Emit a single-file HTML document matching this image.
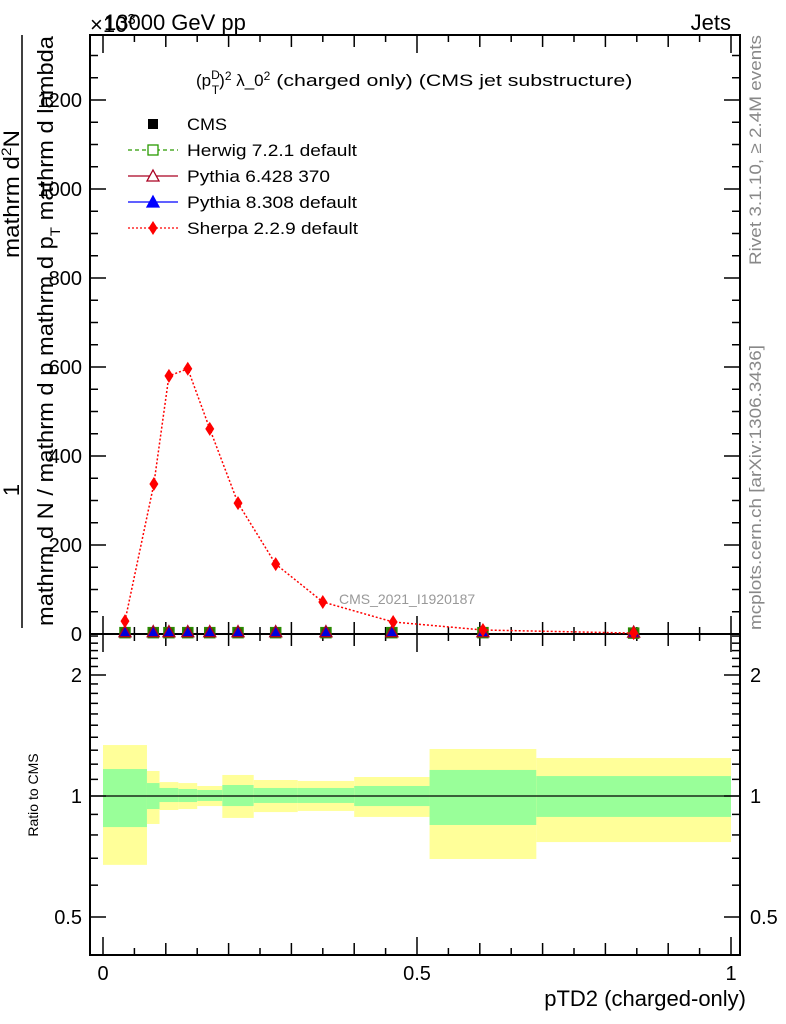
<!DOCTYPE html>
<html><head><meta charset="utf-8"><style>
html,body{margin:0;padding:0;background:#fff;}
svg{display:block;font-family:"Liberation Sans",sans-serif;}
</style></head><body>
<svg id="chart" width="786" height="1024" viewBox="0 0 786 1024" xmlns="http://www.w3.org/2000/svg">
<g id="bands"></g>
<g id="axes"></g>
<g id="marks"></g>
<text x="104" y="30" font-size="22">13000 GeV pp</text>
<text x="90" y="32" font-size="22">×10<tspan font-size="15" dy="-8">3</tspan></text>
<text x="731" y="30" font-size="22" text-anchor="end">Jets</text>
<text x="196" y="86" font-size="17">(p<tspan font-size="12" dy="-7">D</tspan><tspan font-size="12" dx="-8" dy="15">T</tspan><tspan dy="-8">)</tspan><tspan font-size="12" dy="-6">2</tspan><tspan dy="6"> λ_0</tspan><tspan font-size="12" dy="-6">2</tspan><tspan dy="6" textLength="362" lengthAdjust="spacingAndGlyphs"> (charged only) (CMS jet substructure)</tspan></text>
<text x="339" y="604" font-size="14" fill="#999">CMS_2021_I1920187</text>
<text transform="translate(761,265) rotate(-90)" font-size="17" fill="#888" textLength="230" lengthAdjust="spacingAndGlyphs">Rivet 3.1.10, ≥ 2.4M events</text>
<text transform="translate(761,630) rotate(-90)" font-size="17" fill="#888" textLength="285" lengthAdjust="spacingAndGlyphs">mcplots.cern.ch [arXiv:1306.3436]</text>
<g font-size="22">
<text transform="translate(19,194) rotate(-90)" text-anchor="middle" textLength="128" lengthAdjust="spacingAndGlyphs">mathrm d<tspan font-size="14" dy="-8">2</tspan><tspan dy="8">N</tspan></text>
<text transform="translate(19,490) rotate(-90)" text-anchor="middle">1</text>
<line x1="22" y1="35" x2="22" y2="628" stroke="#000" stroke-width="1.5"/>
<text transform="translate(53,626) rotate(-90)" textLength="590" lengthAdjust="spacingAndGlyphs">mathrm d N / mathrm d p mathrm d p<tspan font-size="14" dy="7">T</tspan><tspan dy="-7"> mathrm d lambda</tspan></text>
</g>
<text transform="translate(38,795) rotate(-90)" font-size="14" text-anchor="middle">Ratio to CMS</text>
<text x="746" y="1006" font-size="22" text-anchor="end">pTD2 (charged-only)</text>
<g id="legend" font-size="17"></g>
</svg>
<script>
const edges=[0,0.07,0.09,0.12,0.15,0.19,0.24,0.31,0.40,0.52,0.69,1.0];
const sherpaX=[0.035,0.081,0.105,0.135,0.17,0.215,0.275,0.35,0.462,0.605,0.845];
const sherpaY=[29,337,580,596,461,294,157,72,27,9,2];
const cmsY=[3,3,3,3,3,3,3,3,3,3,2];
const yelHi=[1.339,1.154,1.083,1.077,1.059,1.128,1.096,1.090,1.115,1.309,1.243];
const yelLo=[0.674,0.852,0.923,0.928,0.944,0.882,0.912,0.918,0.887,0.697,0.768];
const grnHi=[1.167,1.077,1.047,1.041,1.035,1.065,1.047,1.047,1.059,1.161,1.121];
const grnLo=[0.837,0.928,0.966,0.966,0.972,0.944,0.961,0.961,0.944,0.847,0.887];
const mainTicks=[0,200,400,600,800,1000,1200];
const ratioTicks=[0.5,1,2];
const xTickLabels=[0,0.5,1];

const NS="http://www.w3.org/2000/svg";
const L=90,R=740,T=35,MB=634,RB=955;
const X=v=>103+v*628;
const Y=v=>634-v*0.445;
const RY=v=>796-121*Math.log2(v);
function mk(tag,attrs,parent){const e=document.createElementNS(NS,tag);for(const k in attrs)e.setAttribute(k,attrs[k]);parent.appendChild(e);return e;}
const bands=document.getElementById('bands'),axes=document.getElementById('axes'),marks=document.getElementById('marks'),legend=document.getElementById('legend');

for(let i=0;i<edges.length-1;i++){
  const x1=X(edges[i]),x2=X(edges[i+1]);
  const yb=mk('rect',{x:x1,y:RY(yelHi[i]),width:x2-x1,height:RY(yelLo[i])-RY(yelHi[i]),fill:'#ffff99'},bands);
  
  
  const gb=mk('rect',{x:x1,y:RY(grnHi[i]),width:x2-x1,height:RY(grnLo[i])-RY(grnHi[i]),fill:'#99ff99'},bands);
  
  
}
mk('line',{x1:L,x2:R,y1:RY(1),y2:RY(1),stroke:'#000','stroke-width':1.2},axes);

mk('rect',{x:L,y:T,width:R-L,height:MB-T,fill:'none',stroke:'#000','stroke-width':2},axes);
mk('rect',{x:L,y:MB,width:R-L,height:RB-MB,fill:'none',stroke:'#000','stroke-width':2},axes);

for(let k=0;k<=20;k++){
  const v=k*0.05,x=X(v);
  const len=(k%10===0)?18:(k%2===0?12:7);
  mk('line',{x1:x,x2:x,y1:MB,y2:MB-len,stroke:'#000','stroke-width':1.5},axes);
  mk('line',{x1:x,x2:x,y1:T,y2:T+len,stroke:'#000','stroke-width':1.5},axes);
  mk('line',{x1:x,x2:x,y1:RB,y2:RB-len,stroke:'#000','stroke-width':1.5},axes);
  mk('line',{x1:x,x2:x,y1:MB,y2:MB+len,stroke:'#000','stroke-width':1.5},axes);
}
xTickLabels.forEach(v=>{const t=mk('text',{x:X(v),y:980,'font-size':20,'text-anchor':'middle'},axes);t.textContent=v;
  
  });

for(let v=0;Y(v)>=T;v+=50){
  const len=(v%200===0)?16:8,y=Y(v);
  mk('line',{x1:L,x2:L+len,y1:y,y2:y,stroke:'#000','stroke-width':1.5},axes);
  mk('line',{x1:R,x2:R-len,y1:y,y2:y,stroke:'#000','stroke-width':1.5},axes);
}
mainTicks.forEach(v=>{const t=mk('text',{x:82,y:Y(v)+7,'font-size':20,'text-anchor':'end'},axes);t.textContent=v;
  
  });

for(let k=4;k<=25;k++){
  const v=k/10,y=RY(v);if(y<MB||y>RB)continue;
  const len=(k===5||k===10||k===20)?16:8;
  mk('line',{x1:L,x2:L+len,y1:y,y2:y,stroke:'#000','stroke-width':1.5},axes);
  mk('line',{x1:R,x2:R-len,y1:y,y2:y,stroke:'#000','stroke-width':1.5},axes);
}
ratioTicks.forEach(v=>{
  const t=mk('text',{x:82,y:RY(v)+7,'font-size':20,'text-anchor':'end'},axes);t.textContent=v;
  
  
  const t2=mk('text',{x:750,y:RY(v)+7,'font-size':20},axes);t2.textContent=v;
  
  
});

function diamond(x,y,p,fill){return mk('polygon',{points:`${x},${y-7} ${x+4.5},${y} ${x},${y+7} ${x-4.5},${y}`,fill:fill},p);}
function tri(x,y,p,fill,stroke){return mk('polygon',{points:`${x},${y-6} ${x+6},${y+5} ${x-6},${y+5}`,fill:fill,stroke:stroke,'stroke-width':1.3},p);}

const centers=edges.slice(0,-1).map((e,i)=>(e+edges[i+1])/2);
centers.forEach((c,i)=>{
  const x=X(c),y=Y(cmsY[i]);
  const s=mk('rect',{x:x-5,y:y-5,width:10,height:10,fill:'#2a6a00',stroke:'#2a8a00','stroke-width':1.5},marks);
  
  
  const tr=tri(x,y-1,marks,'#0000dd','#aa0022');
  
  
});
const pts=sherpaX.map((v,i)=>X(v)+','+Y(sherpaY[i])).join(' ');
const pl=mk('polyline',{points:pts,fill:'none',stroke:'#ff0000','stroke-width':1.5,'stroke-dasharray':'2,2'},marks);


sherpaX.forEach((v,i)=>{const d=diamond(X(v),Y(sherpaY[i]),marks,'#ff0000');
  
  });

const entries=[['CMS','cms',40],['Herwig 7.2.1 default','herwig',170],['Pythia 6.428 370','py6',143],['Pythia 8.308 default','py8',170],['Sherpa 2.2.9 default','sherpa',171]];
entries.forEach((e,i)=>{
  const y=124+i*26,g=mk('g',{},legend);
  
  
  if(e[1]==='cms'){mk('rect',{x:148,y:y-5,width:10,height:10,fill:'#000'},g);}
  if(e[1]==='herwig'){mk('line',{x1:128,x2:178,y1:y,y2:y,stroke:'#2a9a00','stroke-width':1.2,'stroke-dasharray':'4,3'},g);mk('rect',{x:148,y:y-5,width:10,height:10,fill:'#fff',stroke:'#2a9a00','stroke-width':1.3},g);}
  if(e[1]==='py6'){mk('line',{x1:128,x2:178,y1:y,y2:y,stroke:'#aa0022','stroke-width':1.3},g);tri(153,y,g,'#fff','#aa0022');}
  if(e[1]==='py8'){mk('line',{x1:128,x2:178,y1:y,y2:y,stroke:'#0000ff','stroke-width':1.3},g);tri(153,y,g,'#0000ff','#0000ff');}
  if(e[1]==='sherpa'){mk('line',{x1:128,x2:178,y1:y,y2:y,stroke:'#ff0000','stroke-width':1.3,'stroke-dasharray':'2,2'},g);diamond(153,y,g,'#ff0000');}
  const t=mk('text',{x:187,y:y+6,textLength:e[2],lengthAdjust:'spacingAndGlyphs'},g);t.textContent=e[0];
});
</script>
</body></html>
